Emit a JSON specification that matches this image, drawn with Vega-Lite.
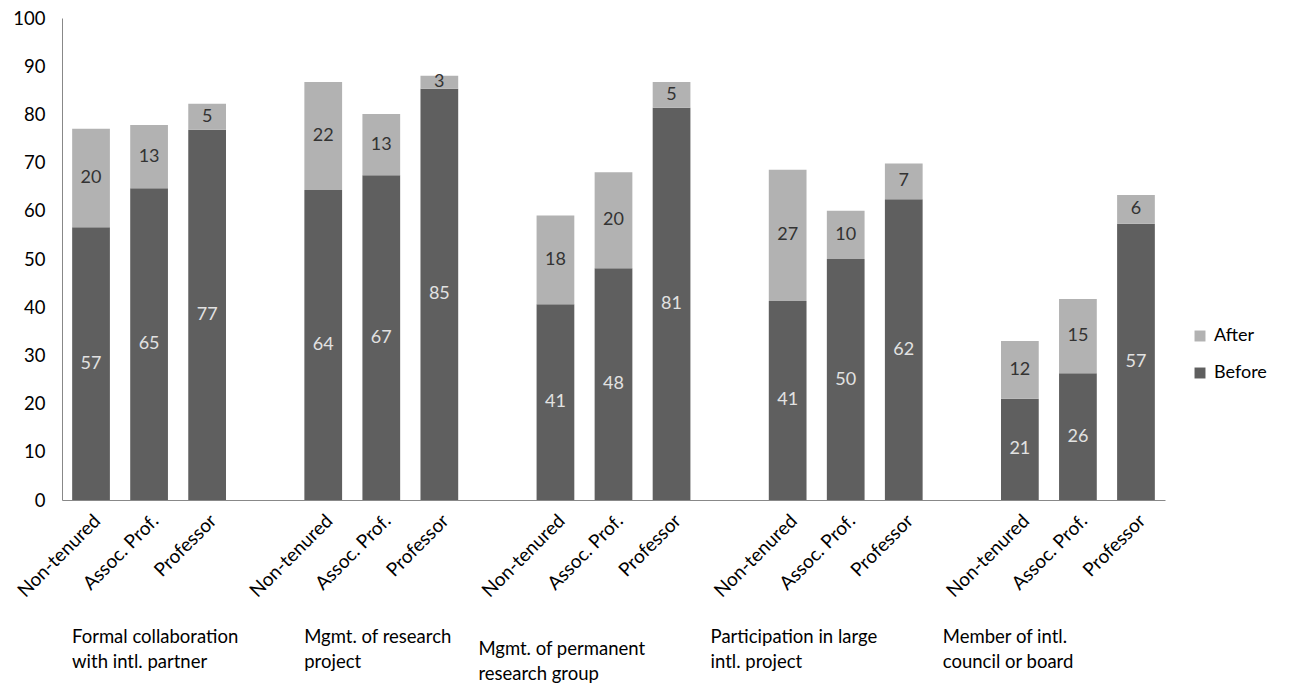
{
  "$schema": "https://vega.github.io/schema/vega-lite/v6.json",
  "width": 1103,
  "height": 482,
  "autosize": {"type": "none"},
  "padding": {"left": 62, "top": 18, "right": 135, "bottom": 184},
  "background": "white",
  "config": {"font": "Lato", "view": {"stroke": null}},
  "data": {
    "values": [
      {"slot": "1 Non-tenured", "series": "Before", "value": 56.6},
      {"slot": "1 Non-tenured", "series": "After", "value": 20.4},
      {"slot": "1 Assoc. Prof.", "series": "Before", "value": 64.7},
      {"slot": "1 Assoc. Prof.", "series": "After", "value": 13.1},
      {"slot": "1 Professor", "series": "Before", "value": 76.8},
      {"slot": "1 Professor", "series": "After", "value": 5.4},
      {"slot": "2 Non-tenured", "series": "Before", "value": 64.3},
      {"slot": "2 Non-tenured", "series": "After", "value": 22.4},
      {"slot": "2 Assoc. Prof.", "series": "Before", "value": 67.4},
      {"slot": "2 Assoc. Prof.", "series": "After", "value": 12.7},
      {"slot": "2 Professor", "series": "Before", "value": 85.3},
      {"slot": "2 Professor", "series": "After", "value": 2.7},
      {"slot": "3 Non-tenured", "series": "Before", "value": 40.6},
      {"slot": "3 Non-tenured", "series": "After", "value": 18.4},
      {"slot": "3 Assoc. Prof.", "series": "Before", "value": 48.1},
      {"slot": "3 Assoc. Prof.", "series": "After", "value": 19.9},
      {"slot": "3 Professor", "series": "Before", "value": 81.4},
      {"slot": "3 Professor", "series": "After", "value": 5.3},
      {"slot": "4 Non-tenured", "series": "Before", "value": 41.3},
      {"slot": "4 Non-tenured", "series": "After", "value": 27.2},
      {"slot": "4 Assoc. Prof.", "series": "Before", "value": 50.0},
      {"slot": "4 Assoc. Prof.", "series": "After", "value": 10.0},
      {"slot": "4 Professor", "series": "Before", "value": 62.4},
      {"slot": "4 Professor", "series": "After", "value": 7.4},
      {"slot": "5 Non-tenured", "series": "Before", "value": 21.0},
      {"slot": "5 Non-tenured", "series": "After", "value": 12.0},
      {"slot": "5 Assoc. Prof.", "series": "Before", "value": 26.3},
      {"slot": "5 Assoc. Prof.", "series": "After", "value": 15.4},
      {"slot": "5 Professor", "series": "Before", "value": 57.3},
      {"slot": "5 Professor", "series": "After", "value": 6.0}
    ]
  },
  "encoding": {
    "y": {
      "field": "value", "type": "quantitative", "stack": "zero",
      "scale": {"domain": [0, 100], "nice": false},
      "axis": {"title": null, "values": [0,10,20,30,40,50,60,70,80,90,100], "grid": false, "ticks": false, "labelPadding": 17, "labelFontSize": 18.5, "labelColor": "#000000", "domainColor": "#888888", "labelFont": "Lato"}
    },
    "order": {"field": "series", "sort": "descending"}
  },
  "layer": [
    {
      "mark": {"type": "bar"},
      "encoding": {
        "x": {
          "field": "slot", "type": "nominal",
          "scale": {"domain": ["1 Non-tenured","1 Assoc. Prof.","1 Professor","gap1","2 Non-tenured","2 Assoc. Prof.","2 Professor","gap2","3 Non-tenured","3 Assoc. Prof.","3 Professor","gap3","4 Non-tenured","4 Assoc. Prof.","4 Professor","gap4","5 Non-tenured","5 Assoc. Prof.","5 Professor"], "paddingInner": 0.35, "paddingOuter": 0.175},
          "axis": {"orient": "bottom", "title": null, "ticks": false, "domainColor": "#888888", "labelAngle": -45, "labelFontSize": 19, "labelColor": "#000000", "labelPadding": 11, "labelOverlap": false, "labelExpr": "substring(datum.value, 0, 3) == 'gap' ? '' : substring(datum.value, 2)"}
        },
        "color": {
          "field": "series", "type": "nominal",
          "scale": {"domain": ["After", "Before"], "range": ["#b2b2b2", "#5f5f5f"]},
          "legend": {"title": null, "orient": "none", "legendX": 1129, "legendY": 309, "symbolType": "square", "symbolSize": 120, "symbolStrokeWidth": 0, "labelFontSize": 18, "labelColor": "#000000", "rowPadding": 19, "padding": 0, "labelOffset": 5}
        }
      }
    },
    {
      "mark": {"type": "text", "fontSize": 18, "font": "Lato"},
      "encoding": {
        "x": {
          "field": "slot", "type": "nominal",
          "scale": {"domain": ["1 Non-tenured","1 Assoc. Prof.","1 Professor","gap1","2 Non-tenured","2 Assoc. Prof.","2 Professor","gap2","3 Non-tenured","3 Assoc. Prof.","3 Professor","gap3","4 Non-tenured","4 Assoc. Prof.","4 Professor","gap4","5 Non-tenured","5 Assoc. Prof.","5 Professor"], "paddingInner": 0.35, "paddingOuter": 0.175},
          "axis": {"orient": "bottom", "title": null, "domain": false, "ticks": false, "labelAngle": 0, "labelAlign": "left", "labelBaseline": "top", "labelOffset": -19, "labelPadding": {"condition": {"test": "datum.value == 'gap2'", "value": 139}, "value": 127}, "labelLineHeight": 25, "labelFontSize": 18.5, "labelColor": "#000000", "labelOverlap": false, "labelBound": false, "labelFlush": false, "values": ["1 Non-tenured", "2 Non-tenured", "gap2", "gap3", "gap4"], "labelExpr": "datum.value == '1 Non-tenured' ? ['Formal collaboration', 'with intl. partner'] : datum.value == '2 Non-tenured' ? ['Mgmt. of research', 'project'] : datum.value == 'gap2' ? ['Mgmt. of permanent', 'research group'] : datum.value == 'gap3' ? ['Participation in large', 'intl. project'] : ['Member of intl.', 'council or board']"}
        },
        "y": {
          "field": "value", "type": "quantitative", "stack": "zero", "bandPosition": 0.5,
          "scale": {"domain": [0, 100], "nice": false},
          "axis": {"title": null, "values": [0,10,20,30,40,50,60,70,80,90,100], "grid": false, "ticks": false, "labelPadding": 17, "labelFontSize": 18.5, "labelColor": "#000000", "domainColor": "#888888", "labelFont": "Lato"}
        },
        "detail": {"field": "series", "type": "nominal"},
        "text": {"field": "value", "type": "quantitative", "format": ".0f"},
        "color": {"condition": {"test": "datum.series == 'Before'", "value": "#e2e2e2"}, "value": "#333333"}
      }
    }
  ],
  "resolve": {"axis": {"x": "independent"}}
}
